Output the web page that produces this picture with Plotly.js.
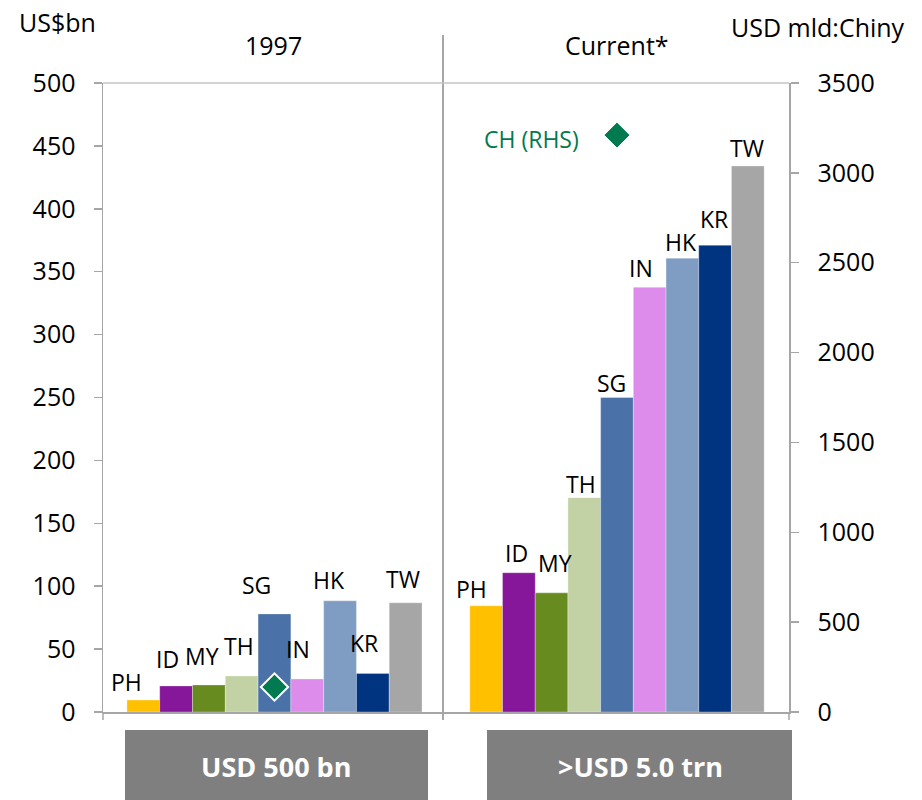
<!DOCTYPE html>
<html>
<head>
<meta charset="utf-8">
<script src="https://cdn.plot.ly/plotly-3.0.1.min.js"></script>
<style>html,body{margin:0;padding:0;background:#fff;}</style>
</head>
<body>
<div id="chart" style="width:922px;height:800px;"></div>
<script>
// ---- data ----
const countries = ["PH","ID","MY","TH","SG","IN","HK","KR","TW"];
const reserves1997 = [9.5, 20.7, 21.5, 28.7, 78, 26.3, 88.4, 30.7, 86.8];      // US$bn (LHS)
const reservesCurrent = [84.4, 110.7, 94.7, 170.4, 250, 337.6, 360.7, 371, 434]; // US$bn (LHS)
const chinaCategory = "SG";
const china1997 = 139;      // USD bn (RHS)
const chinaCurrent = 3210;  // USD bn (RHS)
const barColors = ["#FFC000","#86169A","#678B1E","#C3D2A5","#4A72A8","#DD8CEC","#7F9DC2","#003380","#A6A6A6"];
const panelTitles = ["1997","Current*"];
const boxTexts = ["USD 500 bn",">USD 5.0 trn"];

// label offsets (style, px)
const lblDx1 = [-16.5,-9,-7,-3,-18,-9,-11.5,-9,-3];
const lblDy1 = [18,27,29,30,29,30,21,30,24];
const lblDx2 = [-15,-2.5,3.5,-3.5,-5.5,-9,-1.5,-1,-1];
const lblDy2 = [17,20,30,14,15,19,16,26,18];

const FONT = "Open Sans, Noto Sans, sans-serif";
const green = "#007A4E";
const axisGray = "#A6A6A6";

// pixel -> paper helpers (plot area: x 103..789, y 83..712)
const L = 103, R = 789, T = 83, B = 712;
const px = v => (v - L) / (R - L);
const py = v => (B - v) / (B - T);
const split = px(443);

const traces = [
  {type:"bar", x:countries, y:reserves1997, xaxis:"x", yaxis:"y",
   marker:{color:barColors, line:{color:"rgba(255,255,255,0.6)", width:0.5}}, hoverinfo:"x+y", showlegend:false},
  {type:"bar", x:countries, y:reservesCurrent, xaxis:"x2", yaxis:"y",
   marker:{color:barColors, line:{color:"rgba(255,255,255,0.6)", width:0.5}}, hoverinfo:"x+y", showlegend:false},
  {type:"scatter", mode:"markers", x:[chinaCategory], y:[china1997], xaxis:"x", yaxis:"y2",
   marker:{symbol:"diamond", size:21, color:green, line:{color:"#fff", width:2}}, showlegend:false},
  {type:"scatter", mode:"markers", x:[chinaCategory], y:[chinaCurrent], xaxis:"x2", yaxis:"y2",
   marker:{symbol:"diamond", size:20, color:green, line:{color:"#fff", width:1}}, showlegend:false}
];

const annotations = [];
countries.forEach((c,i)=>{
  annotations.push({xref:"x", yref:"y", x:c, y:reserves1997[i], text:c, showarrow:false,
    xanchor:"center", yanchor:"middle", xshift:lblDx1[i], yshift:lblDy1[i],
    font:{family:FONT, size:23, color:"#000"}});
  annotations.push({xref:"x2", yref:"y", x:c, y:reservesCurrent[i], text:c, showarrow:false,
    xanchor:"center", yanchor:"middle", xshift:lblDx2[i], yshift:lblDy2[i],
    font:{family:FONT, size:23, color:"#000"}});
});
annotations.push({xref:"x2", yref:"y2", x:chinaCategory, y:chinaCurrent, text:"CH (RHS)", showarrow:false,
  xanchor:"right", yanchor:"middle", xshift:-36, yshift:-4, font:{family:FONT, size:23, color:green}});
// titles
annotations.push({xref:"paper", yref:"paper", x:px(17), y:py(22), text:"US$bn", showarrow:false,
  xanchor:"left", yanchor:"middle", font:{family:FONT, size:25, color:"#000"}});
annotations.push({xref:"paper", yref:"paper", x:px(907), y:py(27), text:"USD mld:Chiny", showarrow:false,
  xanchor:"right", yanchor:"middle", font:{family:FONT, size:25, color:"#000"}});
annotations.push({xref:"paper", yref:"paper", x:px(273), y:py(45), text:panelTitles[0], showarrow:false,
  xanchor:"center", yanchor:"middle", font:{family:FONT, size:25, color:"#000"}});
annotations.push({xref:"paper", yref:"paper", x:px(617), y:py(45), text:panelTitles[1], showarrow:false,
  xanchor:"center", yanchor:"middle", font:{family:FONT, size:25, color:"#000"}});
annotations.push({xref:"paper", yref:"paper", x:px(276), y:py(766), text:"<b>"+boxTexts[0]+"</b>", showarrow:false,
  xanchor:"center", yanchor:"middle", font:{family:FONT, size:27, color:"#fff"}});
annotations.push({xref:"paper", yref:"paper", x:px(640), y:py(766), text:"<b>"+boxTexts[1]+"</b>", showarrow:false,
  xanchor:"center", yanchor:"middle", font:{family:FONT, size:27, color:"#fff"}});

const shapes = [
  // boxes under panels
  {type:"rect", xref:"paper", yref:"paper", x0:px(125), x1:px(428), y0:py(730), y1:py(800), fillcolor:"#7F7F7F", line:{width:0}},
  {type:"rect", xref:"paper", yref:"paper", x0:px(487), x1:px(792), y0:py(730), y1:py(800), fillcolor:"#7F7F7F", line:{width:0}},
  // separator
  {type:"line", xref:"paper", yref:"paper", x0:split, x1:split, y0:py(35), y1:py(720), line:{color:axisGray, width:2}},
  // top frame
  {type:"line", xref:"paper", yref:"paper", x0:0, x1:1, y0:1, y1:1, line:{color:"#C4C4C4", width:1.5}},
  // bottom ticks
  {type:"line", xref:"paper", yref:"paper", x0:0, x1:0, y0:0, y1:py(720), line:{color:axisGray, width:1.5}},
  {type:"line", xref:"paper", yref:"paper", x0:1, x1:1, y0:0, y1:py(720), line:{color:axisGray, width:1.5}}
];

const xcommon = {type:"category", showticklabels:false, ticks:"", showgrid:false, zeroline:false,
  showline:true, linecolor:axisGray, linewidth:1.5, fixedrange:true};

const layout = {
  width:922, height:800,
  margin:{l:L, r:922-R, t:T, b:800-B, pad:0},
  paper_bgcolor:"#fff", plot_bgcolor:"rgba(0,0,0,0)",
  bargap:0, showlegend:false,
  font:{family:FONT, size:25, color:"#000"},
  xaxis:Object.assign({}, xcommon, {domain:[0, split], range:[-1.23, 9.14], anchor:"y"}),
  xaxis2:Object.assign({}, xcommon, {domain:[split, 1], range:[-1.32, 9.26], anchor:"y"}),
  yaxis:{range:[0,500], dtick:50, tick0:0, showgrid:false, zeroline:false, showline:true,
    linecolor:axisGray, linewidth:1.5, ticks:"outside", ticklen:8, tickcolor:axisGray, tickwidth:1.5,
    ticklabelstandoff:13, tickfont:{family:FONT, size:25, color:"#000"}, anchor:"x", fixedrange:true},
  yaxis2:{range:[0,3500], dtick:500, tick0:0, overlaying:"y", side:"right", anchor:"x2",
    showgrid:false, zeroline:false, showline:true, linecolor:axisGray, linewidth:1.5,
    ticks:"outside", ticklen:8, tickcolor:axisGray, tickwidth:1.5, ticklabelstandoff:14,
    tickfont:{family:FONT, size:25, color:"#000"}, fixedrange:true},
  annotations:annotations,
  shapes:shapes
};

Plotly.newPlot("chart", traces, layout, {displayModeBar:false, staticPlot:true});
</script>
</body>
</html>
